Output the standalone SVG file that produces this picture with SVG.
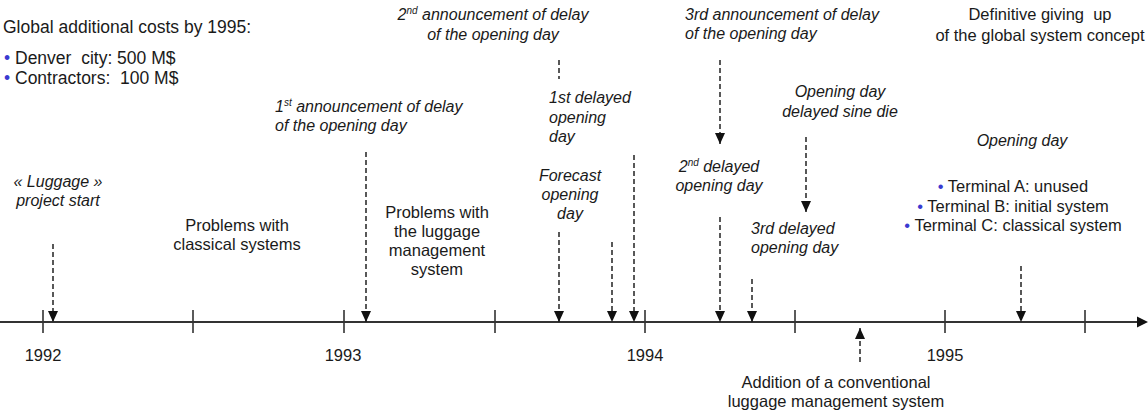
<svg xmlns="http://www.w3.org/2000/svg" width="1148" height="414" viewBox="0 0 1148 414">
<style>
text{font-family:"Liberation Sans",Arial,sans-serif;fill:#1a1a1a;font-size:16.5px}
.it{font-style:italic;font-size:16px}
.big{font-size:17.5px}
.mid{text-anchor:middle}
.bl{fill:#3a3ad0}
.sup{font-size:10px}
.dash{stroke:#222;stroke-width:1.5;stroke-dasharray:5 3;fill:none}
.axis{stroke:#333;stroke-width:2;fill:none}
.tick{stroke:#333;stroke-width:1.6;fill:none}
</style>
<defs>
<marker id="ah" markerUnits="userSpaceOnUse" markerWidth="11" markerHeight="10" viewBox="0 0 11 10" refX="11" refY="5" orient="auto">
<path d="M0,0 L11,5 L0,10 z" fill="#111"/>
</marker>
</defs>
<rect width="1148" height="414" fill="#fff"/>

<g id="costs">
<text x="3" y="33" class="big">Global additional costs by 1995:</text>
<text x="4" y="64" class="big"><tspan class="bl">•</tspan> Denver&#160; city: 500 M$</text>
<text x="4" y="84" class="big"><tspan class="bl">•</tspan> Contractors:&#160; 100 M$</text>
</g>

<g id="axis">
<line class="axis" x1="0" y1="322" x2="1139" y2="322"/>
<path d="M1137,316.5 L1148,322 L1137,327.5 z" fill="#111"/>
<path class="tick" d="M43,310V333 M193,310V333 M344,310V333 M495,310V333 M645,310V333 M795,310V333 M945,310V333 M1085,310V333"/>
</g>

<g id="years">
<text x="43" y="361" class="mid">1992</text>
<text x="343" y="361" class="mid">1993</text>
<text x="645" y="361" class="mid">1994</text>
<text x="945" y="361" class="mid">1995</text>
</g>

<g id="connectors">
<path class="dash" d="M53,244V322" marker-end="url(#ah)"/>
<path class="dash" d="M366,152V322" marker-end="url(#ah)"/>
<path class="dash" d="M559,232V322" marker-end="url(#ah)"/>
<path class="dash" d="M612,242V322" marker-end="url(#ah)"/>
<path class="dash" d="M634,155V322" marker-end="url(#ah)"/>
<path class="dash" d="M720,217V322" marker-end="url(#ah)"/>
<path class="dash" d="M752,279V322" marker-end="url(#ah)"/>
<path class="dash" d="M1021,266V322" marker-end="url(#ah)"/>
<path class="dash" d="M860,362V328" marker-end="url(#ah)"/>
<path class="dash" d="M720,60V144" marker-end="url(#ah)"/>
<path class="dash" d="M806,137V212" marker-end="url(#ah)"/>
<path class="dash" d="M559,60V79"/>
</g>

<g id="project-start">
<text x="58" y="187" class="it mid">« Luggage »</text>
<text x="58" y="206" class="it mid">project start</text>
</g>

<g id="problems-classical">
<text x="237" y="231" class="mid">Problems with</text>
<text x="237" y="250" class="mid">classical systems</text>
</g>

<g id="announcement-1">
<text x="275" y="112" class="it">1<tspan class="sup" dy="-6">st</tspan><tspan dy="6"> announcement of delay</tspan></text>
<text x="275" y="131" class="it">of the opening day</text>
</g>

<g id="problems-luggage">
<text x="437" y="218" class="mid">Problems with</text>
<text x="437" y="237" class="mid">the luggage</text>
<text x="437" y="256" class="mid">management</text>
<text x="437" y="275" class="mid">system</text>
</g>

<g id="announcement-2">
<text x="493" y="20" class="it mid">2<tspan class="sup" dy="-6">nd</tspan><tspan dy="6"> announcement of delay</tspan></text>
<text x="493" y="40" class="it mid">of the opening day</text>
</g>

<g id="delayed-1">
<text x="549" y="103" class="it">1st delayed</text>
<text x="549" y="123" class="it">opening</text>
<text x="549" y="142" class="it">day</text>
</g>

<g id="forecast">
<text x="570" y="181" class="it mid">Forecast</text>
<text x="570" y="200" class="it mid">opening</text>
<text x="570" y="219" class="it mid">day</text>
</g>

<g id="announcement-3">
<text x="685" y="20" class="it">3rd announcement of delay</text>
<text x="685" y="39" class="it">of the opening day</text>
</g>

<g id="delayed-2">
<text x="719" y="172" class="it mid">2<tspan class="sup" dy="-6">nd</tspan><tspan dy="6"> delayed</tspan></text>
<text x="719" y="191" class="it mid">opening day</text>
</g>

<g id="delayed-3">
<text x="751" y="234" class="it">3rd delayed</text>
<text x="751" y="253" class="it">opening day</text>
</g>

<g id="sine-die">
<text x="840" y="97" class="it mid">Opening day</text>
<text x="840" y="117" class="it mid">delayed sine die</text>
</g>

<g id="conventional">
<text x="836" y="388" class="mid">Addition of a conventional</text>
<text x="836" y="407" class="mid">luggage management system</text>
</g>

<g id="giving-up">
<text x="1040" y="20" class="mid">Definitive giving&#160; up</text>
<text x="1040" y="41" class="mid">of the global system concept</text>
</g>

<g id="opening-day">
<text x="1022" y="146" class="it mid">Opening day</text>
<text x="1013" y="192" class="mid"><tspan class="bl">•</tspan> Terminal A: unused</text>
<text x="1013" y="212" class="mid"><tspan class="bl">•</tspan> Terminal B: initial system</text>
<text x="1013" y="231" class="mid"><tspan class="bl">•</tspan> Terminal C: classical system</text>
</g>
</svg>
